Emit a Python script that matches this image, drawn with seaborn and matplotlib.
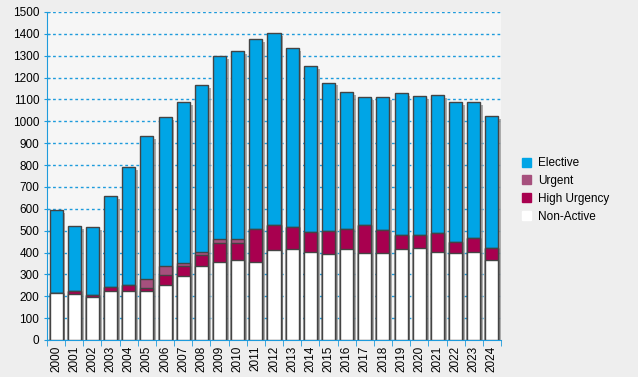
import pandas as pd
import seaborn as sns
import matplotlib.pyplot as plt
from matplotlib.patches import Patch
from matplotlib import patheffects as pe
from matplotlib.ticker import MultipleLocator, FixedLocator

# data
years = [str(y) for y in range(2000, 2025)]
non_active = [215, 209, 195, 222, 222, 222, 250, 294, 340, 358, 364, 358, 410,
              415, 401, 392, 415, 396, 396, 415, 419, 402, 396, 402, 364]
high_urgency = [0, 14, 11, 20, 29, 16, 47, 43, 47, 87, 81, 150, 116,
                100, 91, 105, 91, 130, 105, 65, 61, 87, 52, 64, 57]
urgent = [0, 0, 0, 0, 0, 39, 40, 14, 15, 15, 15, 0, 0,
          0, 0, 0, 0, 0, 0, 0, 0, 0, 0, 0, 0]
elective = [378, 297, 309, 415, 540, 656, 683, 737, 764, 839, 862, 869, 878,
            820, 761, 680, 628, 585, 610, 650, 636, 631, 640, 622, 603]

df = pd.DataFrame({'Year': years, 'Non-Active': non_active, 'High Urgency': high_urgency,
                   'Urgent': urgent, 'Elective': elective})
# cumulative heights, bottom to top
df['c1'] = df['Non-Active']
df['c2'] = df['c1'] + df['High Urgency']
df['c3'] = df['c2'] + df['Urgent']
df['c4'] = df['c3'] + df['Elective']

colors = {'Elective': '#00A5E6', 'Urgent': '#A6507D', 'High Urgency': '#A8004F', 'Non-Active': '#FFFFFF'}
plt.rcParams['font.family'] = ['Liberation Sans', 'DejaVu Sans']

fig = plt.figure(figsize=(6.38, 3.77), dpi=100, facecolor='#EEEEEE')
ax = fig.add_axes([47 / 638, 1 - 340 / 377, 454 / 638, 328 / 377])
ax.set_facecolor('#F6F6F6')

# draw from tallest to shortest so each layer overlays the one before
layers = [('c4', 'Elective'), ('c3', 'Urgent'), ('c2', 'High Urgency'), ('c1', 'Non-Active')]
for col, name in layers:
    sns.barplot(data=df, x='Year', y=col, color=colors[name], saturation=1,
                width=0.72, edgecolor='#444444', linewidth=1.0, ax=ax, zorder=3)

# shadow on the outer bars
for p in ax.patches[:len(years)]:
    p.set_path_effects([pe.SimplePatchShadow(offset=(2, -2), shadow_rgbFace='#999999', alpha=0.8),
                        pe.Normal()])

blue = '#1E9BDC'
ax.set_ylim(0, 1500)
ax.set_xlim(-0.5, len(years) - 0.5)
ax.yaxis.set_major_locator(MultipleLocator(100))
ax.grid(axis='y', color=blue, linestyle=(0, (2, 2)), linewidth=1, zorder=0)
ax.set_axisbelow(True)

for s in ['top', 'right']:
    ax.spines[s].set_visible(False)
ax.spines['left'].set_color(blue)
ax.spines['bottom'].set_color(blue)

ax.set_xlabel('')
ax.set_ylabel('')
ax.tick_params(axis='y', colors=blue, labelcolor='black', labelsize=8.5, length=4, direction='inout')
ax.tick_params(axis='x', which='major', length=0, labelsize=8.5, rotation=90, pad=4)
ax.xaxis.set_minor_locator(FixedLocator([i - 0.5 for i in range(len(years) + 1)]))
ax.tick_params(axis='x', which='minor', colors=blue, length=4)

handles = [Patch(facecolor=colors[n], edgecolor=colors[n]) for n in ['Elective', 'Urgent', 'High Urgency', 'Non-Active']]
fig.legend(handles, ['Elective', 'Urgent', 'High Urgency', 'Non-Active'],
           loc='center left', bbox_to_anchor=(511 / 638, 1 - 190 / 377), frameon=False,
           fontsize=8.5, handlelength=0.8, handleheight=0.8, handletextpad=0.6, labelspacing=0.5)

plt.savefig('out.png', dpi=100, facecolor=fig.get_facecolor())
